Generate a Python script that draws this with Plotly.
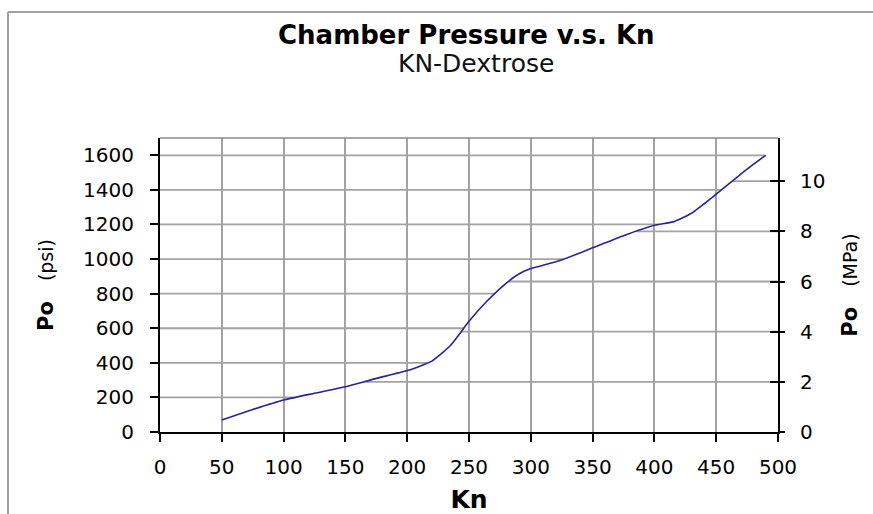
import numpy as np
import plotly.graph_objects as go

# ---- data ----
kn = [50, 75, 100, 125, 150, 175, 200, 220, 235, 250, 265, 280, 290, 300,
      325, 350, 375, 400, 415, 430, 450, 475, 490]
po_psi = [70, 130, 185, 224, 262, 310, 355, 410, 500, 640, 760, 860, 912, 945,
          995, 1065, 1135, 1195, 1215, 1265, 1375, 1520, 1600]

PSI_PER_MPA = 145.038
kn_ticks = [0, 50, 100, 150, 200, 250, 300, 350, 400, 450, 500]
psi_ticks = [0, 200, 400, 600, 800, 1000, 1200, 1400, 1600]
mpa_ticks = [0, 2, 4, 6, 8, 10]

title_text = "Chamber Pressure v.s. Kn"
subtitle_text = "KN-Dextrose"
x_title = "Kn"
y_title_left = ("Po", "(psi)")
y_title_right = ("Po", "(MPa)")

X_MAX = 500
PSI_MAX = 1700
MPA_MAX = PSI_MAX / PSI_PER_MPA

po_mpa = [p / PSI_PER_MPA for p in po_psi]

FONT = "DejaVu Sans"
GRID = "#a3a3a3"
W, H = 873, 514
ML, MR, MT, MB = 160, 95, 138, 82
PW, PH = W - ML - MR, H - MT - MB

fig = go.Figure()
# invisible helpers so the secondary axes exist
fig.add_trace(go.Scatter(x=kn, y=po_mpa, yaxis="y2", mode="lines",
                         line=dict(width=0), opacity=0, showlegend=False,
                         hoverinfo="skip"))
fig.add_trace(go.Scatter(x=kn, y=po_mpa, yaxis="y3", mode="lines",
                         line=dict(width=0), opacity=0, showlegend=False,
                         hoverinfo="skip"))
fig.add_trace(go.Scatter(x=kn, y=po_psi, mode="lines",
                         line=dict(color="#24249e", width=1.6, shape="spline", smoothing=0.5),
                         showlegend=False))

shapes = []
# psi gridlines: from left axis up to the curve
for v in psi_ticks[1:]:
    xc = float(np.interp(v, po_psi, kn))
    shapes.append(dict(type="line", xref="x", yref="y", x0=0, x1=xc, y0=v, y1=v,
                       layer="below", line=dict(color=GRID, width=1.8)))
# MPa gridlines: from the curve to the right axis
for m in mpa_ticks[1:]:
    vp = m * PSI_PER_MPA
    xc = float(np.interp(vp, po_psi, kn))
    shapes.append(dict(type="line", xref="x", yref="y", x0=xc, x1=X_MAX, y0=vp, y1=vp,
                       layer="below", line=dict(color=GRID, width=1.8)))
# top border of plot area
shapes.append(dict(type="line", xref="paper", yref="paper", x0=0, x1=1, y0=1, y1=1,
                   line=dict(color="#8a8a8a", width=1.5)))
# outer chart border (top and left)
bx = (8 - ML) / PW
by = (H - MB - 12) / PH
shapes.append(dict(type="line", xref="paper", yref="paper", x0=bx, x1=1.3, y0=by, y1=by,
                   line=dict(color="#a0a0a0", width=2)))
shapes.append(dict(type="line", xref="paper", yref="paper", x0=bx, x1=bx, y0=by, y1=-0.4,
                   line=dict(color="#a0a0a0", width=2)))

nb = "\u00a0"
fig.update_layout(
    width=W, height=H,
    margin=dict(l=ML, r=MR, t=MT, b=MB, autoexpand=False),
    paper_bgcolor="white", plot_bgcolor="white",
    showlegend=False,
    shapes=shapes,
    xaxis=dict(range=[0, X_MAX], tickvals=kn_ticks, ticktext=[str(t) for t in kn_ticks],
               showgrid=True, gridcolor=GRID, gridwidth=1.8, zeroline=False,
               showline=True, linecolor="black", linewidth=2,
               ticks="outside", ticklen=8, tickwidth=2, tickcolor="black",
               ticklabelstandoff=8,
               tickfont=dict(family=FONT, size=20, color="black"),
               title=dict(text="<b>" + x_title + "</b>", standoff=14,
                          font=dict(family=FONT, size=25, color="black"))),
    yaxis=dict(range=[0, PSI_MAX], tickvals=psi_ticks, ticktext=[str(t) for t in psi_ticks],
               showgrid=False, zeroline=False,
               showline=True, linecolor="black", linewidth=2,
               ticks="outside", ticklen=8, tickwidth=2, tickcolor="black",
               ticklabelstandoff=12,
               tickfont=dict(family=FONT, size=20, color="black"),
               title=dict(text="<b>" + y_title_left[0] + "</b>" + nb * 3 +
                               "<span style='font-size:19px'>" + y_title_left[1] + "</span>",
                          standoff=24,
                          font=dict(family=FONT, size=21, color="black"))),
    yaxis2=dict(range=[0, MPA_MAX], tickvals=mpa_ticks, ticktext=[str(t) for t in mpa_ticks],
                overlaying="y", side="right", anchor="x",
                showgrid=False, zeroline=False,
                showline=True, linecolor="black", linewidth=2,
                ticks="outside", ticklen=5, tickwidth=2, tickcolor="black",
                ticklabelstandoff=11,
                tickfont=dict(family=FONT, size=20, color="black"),
                title=dict(text="<b>" + y_title_right[0] + "</b>" + nb * 3 +
                                "<span style='font-size:19px'>" + y_title_right[1] + "</span>",
                           standoff=18,
                           font=dict(family=FONT, size=21, color="black"))),
    yaxis3=dict(range=[0, MPA_MAX], tickvals=mpa_ticks,
                overlaying="y", side="right", anchor="x",
                showgrid=False, zeroline=False, showline=False,
                ticks="inside", ticklen=8, tickwidth=2, tickcolor="black",
                showticklabels=False),
    annotations=[
        dict(text="<b>" + title_text + "</b>", xref="paper", yref="paper",
             x=(466.5 - ML) / PW, y=(H - MB - 35) / PH, xanchor="center", yanchor="middle",
             showarrow=False, font=dict(family=FONT, size=26, color="black")),
        dict(text=subtitle_text, xref="paper", yref="paper",
             x=(476 - ML) / PW, y=(H - MB - 63) / PH, xanchor="center", yanchor="middle",
             showarrow=False, font=dict(family=FONT, size=25, color="#111111")),
    ],
)

fig.write_html("out.html", config={"displayModeBar": False},
               post_script="document.body.style.margin='0';document.body.style.padding='0';")
